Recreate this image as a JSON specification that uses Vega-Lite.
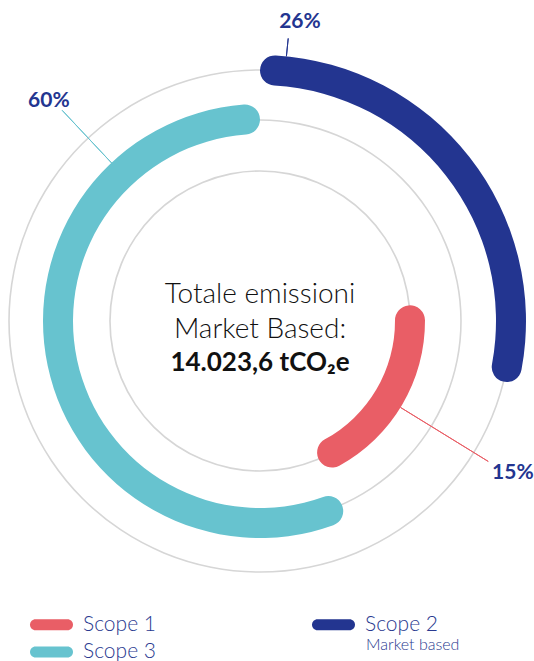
{
  "$schema": "https://vega.github.io/schema/vega-lite/v6.json",
  "width": 520,
  "height": 642,
  "autosize": {"type": "none"},
  "padding": {"left": 0, "top": 0, "right": 14, "bottom": 19},
  "background": "white",
  "config": {"view": {"stroke": null}, "font": "Lato"},
  "datasets": {
    "rings": [
      {"ring": "inner", "t0": 0, "t1": 360, "rin": 149.2, "rout": 150.8},
      {"ring": "middle", "t0": 0, "t1": 360, "rin": 200.2, "rout": 201.8},
      {"ring": "outer", "t0": 0, "t1": 360, "rin": 250.2, "rout": 251.8}
    ],
    "bars": [
      {"scope": "Scope 1", "start": 84, "end": 157, "rin": 135, "rout": 165},
      {"scope": "Scope 2", "start": 0, "end": 104, "rin": 236, "rout": 266},
      {"scope": "Scope 3", "start": 156, "end": 360, "rin": 187, "rout": 217}
    ],
    "leaders": [
      {"scope": "Scope 2", "angle": 5.7, "rin": 266, "rout": 284},
      {"scope": "Scope 3", "angle": 316.8, "rin": 216, "rout": 289},
      {"scope": "Scope 1", "angle": 121.6, "rin": 165, "rout": 268}
    ],
    "labels": [
      {"scope": "Scope 2", "label": "26%", "angle": 7.6, "r": 302},
      {"scope": "Scope 3", "label": "60%", "angle": 316.2, "r": 305},
      {"scope": "Scope 1", "label": "15%", "angle": 121, "r": 295}
    ],
    "center": [
      {"l1": "Totale emissioni", "l2": "Market Based:", "total": "14.023,6 tCO₂e"}
    ],
    "notes": [
      {"note": "Market based"}
    ]
  },
  "layer": [
    {
      "data": {"name": "rings"},
      "mark": {"type": "arc", "color": "#d6d6d6"},
      "encoding": {
        "theta": {"field": "t0", "type": "quantitative", "stack": null,
          "scale": {"type": "linear", "domain": [0, 360], "range": [0, 6.283185307179586]}},
        "theta2": {"field": "t1"},
        "radius": {"field": "rout", "type": "quantitative",
          "scale": {"type": "linear", "domain": [0, 330], "range": [0, 330], "zero": true}},
        "radius2": {"field": "rin"}
      }
    },
    {
      "data": {"name": "bars"},
      "mark": {"type": "arc", "cornerRadius": 15},
      "encoding": {
        "theta": {"field": "start", "type": "quantitative", "stack": null},
        "theta2": {"field": "end"},
        "radius": {"field": "rout", "type": "quantitative"},
        "radius2": {"field": "rin"},
        "color": {
          "field": "scope", "type": "nominal",
          "scale": {"domain": ["Scope 1", "Scope 3", "Scope 2"], "range": ["#e95e66", "#67c3cf", "#233590"]},
          "legend": {
            "orient": "none", "legendX": 41, "legendY": 614, "columns": 2, "title": null,
            "padding": 0,
            "symbolType": "M-2.909,-1 L2.909,-1 A1,1 0 0 1 2.909,1 L-2.909,1 A1,1 0 0 1 -2.909,-1 Z",
            "symbolSize": 121, "symbolStrokeWidth": 0, "symbolOpacity": 1,
            "labelFont": "Lato", "labelFontSize": 21, "labelColor": "#2a3a90", "labelFontWeight": 300,
            "labelOffset": 21, "columnPadding": 156, "rowPadding": 5.5
          }
        }
      }
    },
    {
      "data": {"name": "leaders"},
      "mark": {"type": "arc", "filled": false, "strokeWidth": 1},
      "encoding": {
        "theta": {"field": "angle", "type": "quantitative", "stack": null},
        "theta2": {"field": "angle"},
        "radius": {"field": "rout", "type": "quantitative"},
        "radius2": {"field": "rin"},
        "stroke": {
          "field": "scope", "type": "nominal",
          "scale": {"domain": ["Scope 1", "Scope 2", "Scope 3"], "range": ["#e95e66", "#233590", "#67c3cf"]},
          "legend": null
        }
      }
    },
    {
      "data": {"name": "labels"},
      "mark": {"type": "text", "fontSize": 21, "fontWeight": "bold", "color": "#233590", "align": "center", "baseline": "middle"},
      "encoding": {
        "theta": {"field": "angle", "type": "quantitative", "stack": null},
        "radius": {"field": "r", "type": "quantitative"},
        "text": {"field": "label"}
      }
    },
    {
      "data": {"name": "center"},
      "mark": {"type": "text", "fontSize": 28, "fontWeight": 300, "color": "#111111", "align": "center", "baseline": "middle", "dy": -26},
      "encoding": {"text": {"field": "l1"}}
    },
    {
      "data": {"name": "center"},
      "mark": {"type": "text", "fontSize": 28, "fontWeight": 300, "color": "#111111", "align": "center", "baseline": "middle", "dy": 9},
      "encoding": {"text": {"field": "l2"}}
    },
    {
      "data": {"name": "center"},
      "mark": {"type": "text", "fontSize": 26, "fontWeight": "bold", "color": "#111111", "align": "center", "baseline": "middle", "dy": 42},
      "encoding": {"text": {"field": "total"}}
    },
    {
      "data": {"name": "notes"},
      "mark": {"type": "point", "opacity": 0},
      "encoding": {
        "shape": {
          "field": "note", "type": "nominal",
          "legend": {
            "orient": "none", "legendX": 350, "legendY": 637, "title": null, "padding": 0,
            "symbolOpacity": 0, "symbolSize": 0, "symbolStrokeWidth": 0,
            "labelFont": "Lato", "labelFontSize": 16, "labelFontWeight": 300, "labelColor": "#2a3a90", "labelOffset": 0
          }
        }
      }
    }
  ]
}
